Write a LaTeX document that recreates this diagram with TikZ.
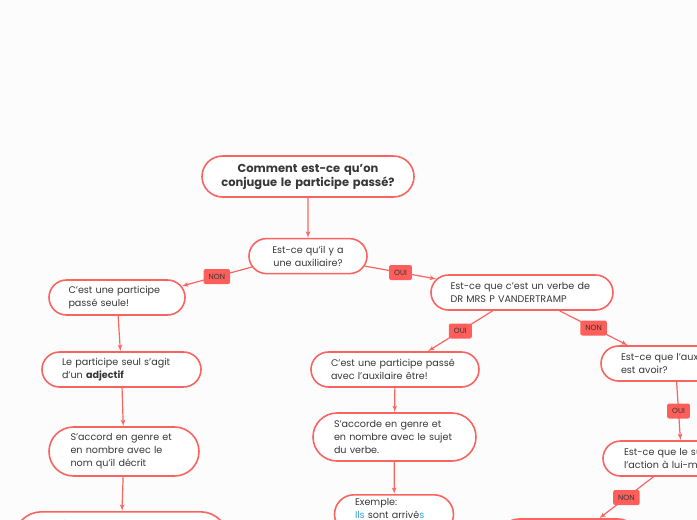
\documentclass[tikz,border=0pt]{standalone}
\usepackage{fontspec}
\setmainfont{Poppins}
\usetikzlibrary{shapes.misc,arrows,positioning}
\definecolor{mapred}{RGB}{250,100,96}
\definecolor{tagred}{RGB}{255,94,90}
\definecolor{inkgray}{RGB}{55,55,55}
\definecolor{ilsblue}{RGB}{60,160,220}
\definecolor{paper}{RGB}{252,252,252}
\tikzset{
    bubble/.style={rounded rectangle, draw=mapred, line width=1.6pt, fill=white, text=inkgray, font=\fontsize{9.6}{13}\selectfont, align=left, inner xsep=2pt, inner ysep=3pt, minimum height=35pt},
    headline/.style={bubble, font=\fontsize{11.5}{14}\selectfont\bfseries, align=center, minimum height=41pt},
    link/.style={draw=mapred, line width=1.2pt, -latex'},
    tag/.style={rectangle, fill=tagred, rounded corners=2pt, text=inkgray, font=\fontsize{7.5}{8}\selectfont, minimum height=15pt, inner xsep=5pt}
}
\begin{document}
\begin{tikzpicture}[x=1pt, y=-1pt]
    \useasboundingbox (0,0) rectangle (697,520);
    \fill [paper] (0,0) rectangle (697,520);
    \clip (0,0) rectangle (697,520);

    \node [headline, text width=190pt, minimum width=216pt] (title) at (308,176.5) {Comment est-ce qu’on\\conjugue le participe passé?};
    \node [bubble, align=center, text width=96pt, minimum width=122pt, below=40pt of title] (aux) {Est-ce qu’il y a\\une auxiliaire?};

    % left branch
    \node [bubble, text width=97pt, minimum width=140pt] (seule) at (117,297.5) {C’est une participe\\passé seule!};
    \node [bubble, text width=119pt, minimum width=163pt] (adj) at (121.5,369.5) {Le participe seul s’agit\\d’un \textbf{adjectif}};
    \node [bubble, text width=107pt, minimum width=154pt, minimum height=49pt] (nom) at (124,451.5) {S’accord en genre et\\en nombre avec le\\nom qu’il décrit};
    \node [bubble, anchor=north, text width=178pt, minimum width=218pt, inner ysep=9pt, text depth=30pt] (exnom) at (121,511) {Exemple:};

    % right branch
    \node [bubble, text width=143pt, minimum width=186pt] (vdt) at (522,292.5) {Est-ce que c’est un verbe de\\DR MRS P VANDERTRAMP};
    \node [bubble, text width=128pt, minimum width=172pt] (etre) at (395,369.5) {C’est une participe passé\\avec l’auxilaire être!};
    \node [bubble, text width=121pt, minimum width=167pt, minimum height=48pt] (sujet) at (394.5,437) {S’accorde en genre et\\en nombre avec le sujet\\du verbe.};
    \node [bubble, anchor=north, text width=78pt, minimum width=123pt, inner ysep=4pt, minimum height=0pt, text depth=24pt] (exsujet) at (394,494) {Exemple:\\{\color{ilsblue}Ils} sont arrivé{\color{ilsblue}s}};
    \node [bubble, text width=126pt, minimum width=170pt] (avoir) at (684,363.5) {Est-ce que l’auxiliaire\\est avoir?};
    \node [bubble, text width=134pt, minimum width=180pt] (lui) at (691,458.5) {Est-ce que le sujet fait\\l’action à lui-même?};
    \node [bubble, minimum width=143pt, minimum height=40pt] (reste) at (568.5,539) {};

    % connectors
    \path [link] (title) -- (aux);
    \draw [link] (aux.191) -- node [tag] {NON} (seule.10);
    \draw [link] (aux.-10) -- node [tag] {OUI} (vdt.171);
    \path [link] (seule) -- (adj);
    \path [link] (adj) -- (nom);
    \path [link] (nom) -- (exnom);
    \draw [link] (vdt.212) -- node [tag] {OUI} (etre.29);
    \draw [link] (vdt.-26) -- node [tag] {NON} (avoir.162);
    \path [link] (etre) -- (sujet);
    \path [link] (sujet) -- (exsujet);
    \draw [link] (avoir.248) -- node [tag] {OUI} (lui.120);
    \draw [link] (lui.206) -- node [tag] {NON} (reste.34);
\end{tikzpicture}
\end{document}
